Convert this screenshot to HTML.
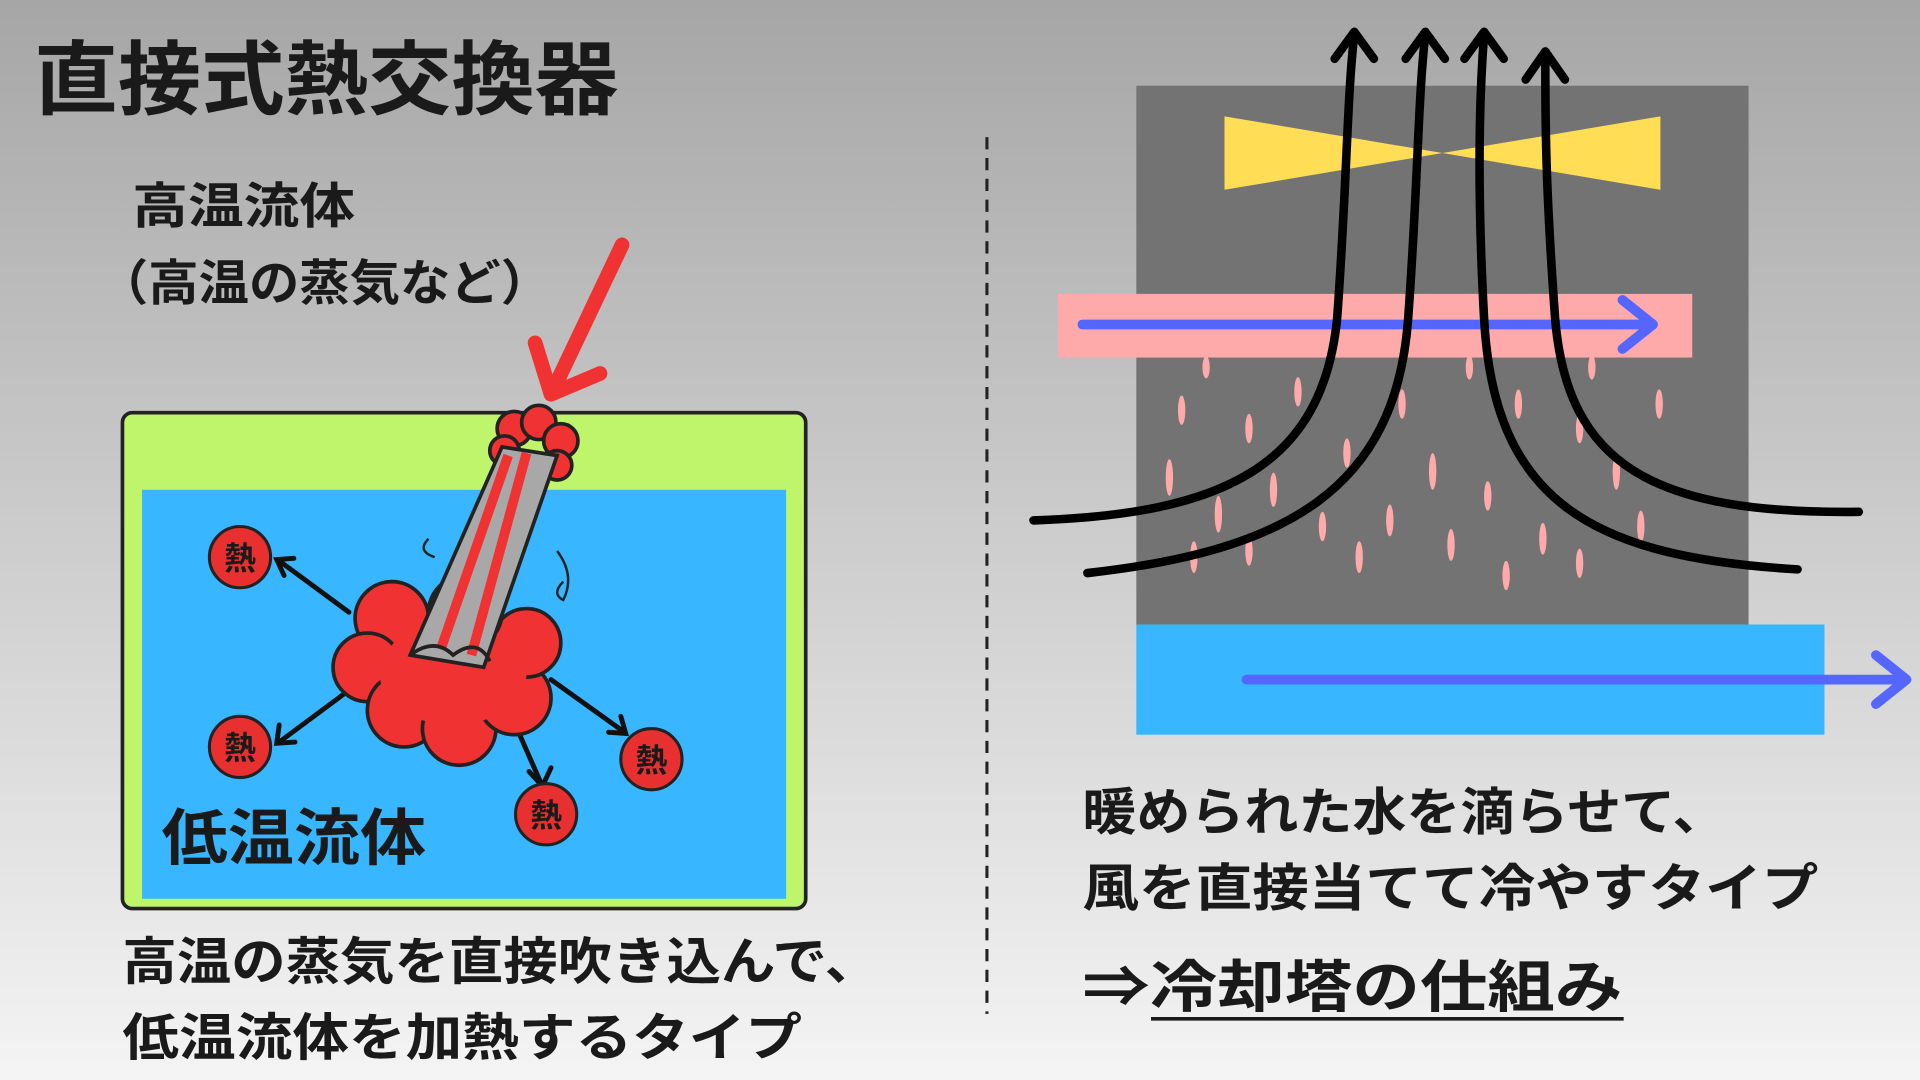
<!DOCTYPE html>
<html><head><meta charset="utf-8"><style>
html,body{margin:0;padding:0;width:1920px;height:1080px;overflow:hidden}
svg{display:block}
text{font-family:"Liberation Sans","Noto Sans CJK JP",sans-serif;fill:#1a1a1a}
</style></head><body>
<svg width="1920" height="1080" viewBox="0 0 1568 882" xmlns="http://www.w3.org/2000/svg">
<defs>
<linearGradient id="bg" x1="0" y1="0" x2="0" y2="1">
<stop offset="0" stop-color="#a6a6a6"/><stop offset="1" stop-color="#f4f4f4"/></linearGradient>
</defs>
<rect width="1568" height="882" fill="url(#bg)"/>

<!-- Left -->
<text x="28" y="88" font-size="66" font-weight="bold" textLength="477" lengthAdjust="spacingAndGlyphs">直接式熱交換器</text>
<text x="108" y="182" font-size="40" font-weight="bold" textLength="182" lengthAdjust="spacingAndGlyphs">高温流体</text>
<text x="80" y="245" font-size="40" font-weight="bold" textLength="370" lengthAdjust="spacingAndGlyphs">（高温の蒸気など）</text>

<rect x="100" y="337" width="558" height="405" rx="8" fill="#bff56a" stroke="#222" stroke-width="3"/>
<rect x="116" y="400" width="526" height="334" fill="#38b6ff"/>

<g stroke="#111" stroke-width="4" fill="none" stroke-linecap="round">
<line x1="285" y1="500" x2="228" y2="458"/><polyline points="240,456 226,457 232,470"/>
<line x1="290" y1="560" x2="228" y2="606"/><polyline points="228,592 226,607 241,606"/>
<line x1="450" y1="555" x2="510" y2="598"/><polyline points="497,598 511,599 507,585"/>
<line x1="420" y1="590" x2="442" y2="640"/><polyline points="432,630 443,642 450,627"/>
</g>
<g fill="#f03232" stroke="#222" stroke-width="3">
<circle cx="320" cy="505" r="30"/><circle cx="300" cy="545" r="28"/><circle cx="330" cy="580" r="30"/>
<circle cx="375" cy="595" r="30"/><circle cx="420" cy="570" r="30"/><circle cx="430" cy="525" r="28"/>
<circle cx="380" cy="500" r="30"/>
<circle cx="420" cy="350" r="14"/><circle cx="440" cy="345" r="14"/><circle cx="458" cy="360" r="14"/><circle cx="412" cy="368" r="12"/><circle cx="455" cy="380" r="12"/>
</g>
<ellipse cx="370" cy="550" rx="60" ry="42" fill="#f03232"/>
<polygon points="410,365 455,372 395,545 335,535" fill="#a8a8a8" stroke="#222" stroke-width="3"/>
<path d="M415,372 L360,530 M430,370 L385,535" stroke="#f03232" stroke-width="8"/>
<path d="M335,535 q20,-15 35,0 q20,-15 30,5" fill="none" stroke="#222" stroke-width="3"/>
<path d="M350,440 q-10,10 5,15 M455,450 q15,20 5,40 q-10,-5 0,-15" fill="none" stroke="#222" stroke-width="2"/>

<g stroke="#222" stroke-width="2.5" fill="#e83030">
<circle cx="196" cy="455" r="25"/><circle cx="196" cy="610" r="25"/><circle cx="532" cy="620" r="25"/><circle cx="446" cy="665" r="25"/>
</g>
<g font-size="26" font-weight="bold" text-anchor="middle">
<text x="196" y="465">熱</text><text x="196" y="620">熱</text><text x="532" y="630">熱</text><text x="446" y="675">熱</text>
</g>
<text x="132" y="702" font-size="50" font-weight="bold" textLength="216" lengthAdjust="spacingAndGlyphs">低温流体</text>

<g stroke="#f03232" stroke-width="12" fill="none" stroke-linecap="round" stroke-linejoin="round">
<line x1="508" y1="200" x2="452" y2="318"/><polyline points="437,280 450,322 490,305"/>
</g>

<text x="100" y="800" font-size="42" font-weight="bold" textLength="618" lengthAdjust="spacingAndGlyphs">高温の蒸気を直接吹き込んで、</text>
<text x="100" y="862" font-size="42" font-weight="bold" textLength="555" lengthAdjust="spacingAndGlyphs">低温流体を加熱するタイプ</text>

<line x1="806" y1="112" x2="806" y2="828" stroke="#222" stroke-width="2.5" stroke-dasharray="10,7"/>

<!-- Right -->
<rect x="928" y="70" width="500" height="440" fill="#737373"/>
<polygon points="1000,95 1000,155 1178,125" fill="#ffdd55"/>
<polygon points="1356,95 1356,155 1178,125" fill="#ffdd55"/>
<rect x="864" y="240" width="518" height="52" fill="#ffaaaa"/>
<g stroke="#5566ff" stroke-width="8" fill="none" stroke-linecap="round" stroke-linejoin="round">
<line x1="884" y1="265" x2="1348" y2="265"/><polyline points="1325,245 1350,265 1325,285"/>
</g>
<rect x="928" y="510" width="562" height="90" fill="#38b6ff"/>
<g stroke="#5566ff" stroke-width="8" fill="none" stroke-linecap="round" stroke-linejoin="round">
<line x1="1018" y1="555" x2="1555" y2="555"/><polyline points="1532,535 1557,555 1532,575"/>
</g>
<g fill="#ffaaaa">
<ellipse cx="965" cy="335" rx="3" ry="12"/><ellipse cx="985" cy="300" rx="3" ry="9"/><ellipse cx="1020" cy="350" rx="3" ry="12"/>
<ellipse cx="955" cy="390" rx="3" ry="15"/><ellipse cx="995" cy="420" rx="3" ry="15"/><ellipse cx="1040" cy="400" rx="3" ry="14"/>
<ellipse cx="975" cy="455" rx="3" ry="13"/><ellipse cx="1060" cy="320" rx="3" ry="12"/><ellipse cx="1080" cy="430" rx="3" ry="12"/>
<ellipse cx="1110" cy="455" rx="3" ry="13"/><ellipse cx="1135" cy="425" rx="3" ry="13"/><ellipse cx="1170" cy="385" rx="3" ry="15"/>
<ellipse cx="1145" cy="330" rx="3" ry="12"/><ellipse cx="1200" cy="300" rx="3" ry="10"/><ellipse cx="1185" cy="445" rx="3" ry="13"/>
<ellipse cx="1215" cy="405" rx="3" ry="12"/><ellipse cx="1240" cy="330" rx="3" ry="12"/><ellipse cx="1260" cy="440" rx="3" ry="13"/>
<ellipse cx="1290" cy="350" rx="3" ry="12"/><ellipse cx="1320" cy="385" rx="3" ry="15"/><ellipse cx="1340" cy="430" rx="3" ry="13"/>
<ellipse cx="1355" cy="330" rx="3" ry="12"/><ellipse cx="1300" cy="300" rx="3" ry="10"/><ellipse cx="1020" cy="450" rx="3" ry="12"/>
<ellipse cx="1290" cy="460" rx="3" ry="12"/><ellipse cx="1100" cy="370" rx="3" ry="12"/><ellipse cx="1230" cy="470" rx="3" ry="12"/>
</g>
<g stroke="#000" stroke-width="7" fill="none" stroke-linecap="round" stroke-linejoin="round">
<path d="M844,425 C1000,420 1080,380 1092,260 C1100,150 1100,80 1106,28"/>
<polyline points="1090,48 1106,26 1122,48"/>
<path d="M888,468 C1050,450 1140,400 1150,260 C1158,150 1158,80 1164,28"/>
<polyline points="1148,48 1164,26 1180,48"/>
<path d="M1518,418 C1350,420 1280,380 1270,260 C1262,150 1262,100 1262,45"/>
<polyline points="1246,65 1262,42 1278,65"/>
<path d="M1468,465 C1300,455 1220,410 1212,260 C1206,150 1208,80 1212,28"/>
<polyline points="1196,48 1212,26 1228,48"/>
</g>

<text x="884" y="678" font-size="42" font-weight="bold" textLength="526" lengthAdjust="spacingAndGlyphs">暖められた水を滴らせて、</text>
<text x="884" y="740" font-size="42" font-weight="bold" textLength="601" lengthAdjust="spacingAndGlyphs">風を直接当てて冷やすタイプ</text>
<text x="884" y="822" font-size="46" font-weight="bold" textLength="441" lengthAdjust="spacingAndGlyphs">⇒冷却塔の仕組み</text>
<line x1="940" y1="832" x2="1326" y2="832" stroke="#1a1a1a" stroke-width="3"/>
</svg>
</body></html>
